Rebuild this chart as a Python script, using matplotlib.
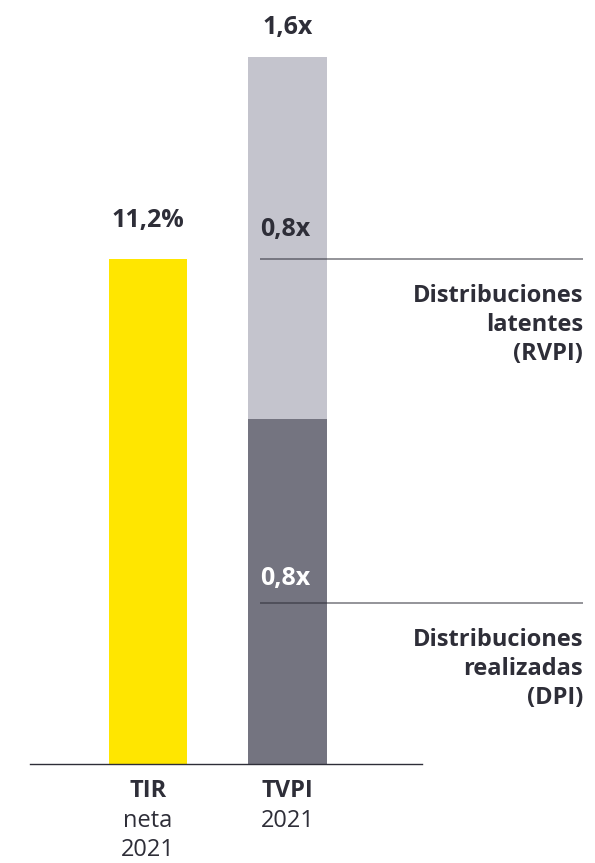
import matplotlib
matplotlib.use("Agg")
import matplotlib.pyplot as plt

plt.rcParams['font.family'] = ['Open Sans', 'DejaVu Sans']

# ---- data ----
categories = ["TIR", "TVPI"]
tir_value = 11.2            # %
dpi_value = 0.78            # realised distributions (x)
rvpi_value = 0.82           # latent distributions (x)
tir_label = "11,2%"
tvpi_label = "1,6x"
dpi_label = "0,8x"
rvpi_label = "0,8x"
bottom_labels = [("TIR", ["neta", "2021"]), ("TVPI", ["2021"])]
legend_labels = ["Distribuciones\nlatentes\n(RVPI)", "Distribuciones\nrealizadas\n(DPI)"]

# ---- style ----
YELLOW = "#FFE600"
LIGHT = "#C4C4CD"
DARK = "#747480"
TEXT = "#2E2E38"

W, H = 595, 863
fig = plt.figure(figsize=(W / 100, H / 100), dpi=100)
ax_left, ax_right = 30 / W, 422 / W
ax_bottom, ax_top = (H - 764) / H, (H - 40) / H
ax = fig.add_axes([ax_left, ax_bottom, ax_right - ax_left, ax_top - ax_bottom])
ax2 = ax.twinx()

px_per_unit = 441.9
ax.set_ylim(0, 724 / px_per_unit)
ax2.set_ylim(0, tir_value * 724 / 505)
ax.set_xlim(-0.846, 1.964)
ax2.set_xlim(-0.846, 1.964)
ax.set_zorder(2)
ax.patch.set_visible(False)

bw = 0.563
x_tir, x_tvpi = 0, 1
ax2.bar(x_tir, tir_value, width=bw, color=YELLOW)
ax.bar(x_tvpi, dpi_value, width=bw, color=DARK)
ax.bar(x_tvpi, rvpi_value, bottom=dpi_value, width=bw, color=LIGHT)

for a in (ax, ax2):
    for s in a.spines.values():
        s.set_visible(False)
    a.set_xticks([])
    a.set_yticks([])
ax.spines['bottom'].set_visible(True)
ax.spines['bottom'].set_color(TEXT)
ax.spines['bottom'].set_linewidth(1.0)

fs_num = 18
fs = 17
# top labels
ax.annotate(tvpi_label, (x_tvpi, dpi_value + rvpi_value), xytext=(0, 21), textcoords="offset points",
            ha="center", va="center", fontsize=fs_num, fontweight="bold", color=TEXT)
ax2.annotate(tir_label, (x_tir, tir_value), xytext=(0, 28), textcoords="offset points",
             ha="center", va="center", fontsize=fs_num, fontweight="bold", color=TEXT)

# divider lines and segment labels
line_x0 = x_tvpi - bw / 2 + 12 / 139.5
line_x1 = 3.118
line_ys = [(764 - 259) / px_per_unit, (764 - 603) / px_per_unit]
for ly in line_ys:
    ax.plot([line_x0, line_x1], [ly, ly], color=TEXT, alpha=0.6, lw=1.2,
            clip_on=False, zorder=5, solid_capstyle="butt")

ax.annotate(rvpi_label, (line_x0, line_ys[0]), xytext=(0, 21), textcoords="offset points",
            ha="left", va="center", fontsize=fs_num, fontweight="bold", color=TEXT, zorder=6)
ax.annotate(dpi_label, (line_x0, line_ys[1]), xytext=(0, 18), textcoords="offset points",
            ha="left", va="center", fontsize=fs_num, fontweight="bold", color="white", zorder=6)

for ly, lab in zip(line_ys, legend_labels):
    ax.annotate(lab, (line_x1, ly), xytext=(0, -18), textcoords="offset points",
                ha="right", va="top", fontsize=fs, fontweight="bold", color=TEXT,
                linespacing=1.27, annotation_clip=False)

# bottom labels (baseline-anchored)
baseline_offsets = [-24.0, -45.6, -66.4]
for xi, (title, rest) in zip([x_tir, x_tvpi], bottom_labels):
    ax.annotate(title, (xi, 0), xytext=(0, baseline_offsets[0]), textcoords="offset points",
                ha="center", va="baseline", fontsize=17, fontweight="bold", color=TEXT,
                annotation_clip=False)
    for k, line in enumerate(rest):
        ax.annotate(line, (xi, 0), xytext=(0, baseline_offsets[k + 1]), textcoords="offset points",
                    ha="center", va="baseline", fontsize=17, color=TEXT, annotation_clip=False)

fig.savefig("out.png", dpi=100)
